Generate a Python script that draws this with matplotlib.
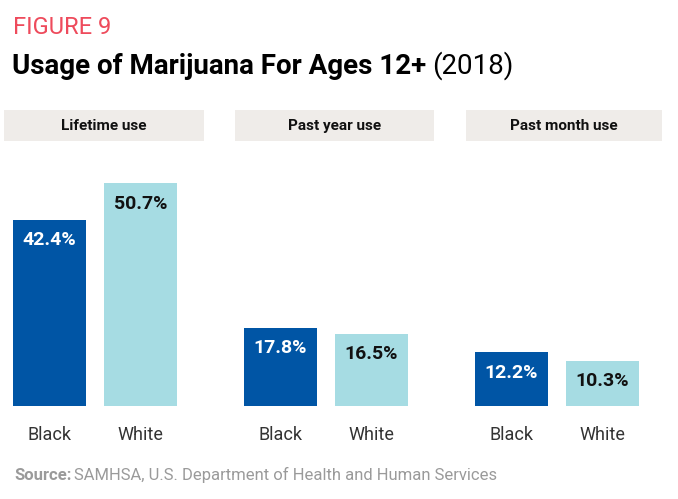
import matplotlib
matplotlib.use("Agg")
import matplotlib.pyplot as plt
from matplotlib.patches import Rectangle

plt.rcParams['font.family'] = ['Roboto', 'DejaVu Sans']

panels = ["Lifetime use", "Past year use", "Past month use"]
groups = ["Black", "White"]
black_vals = [42.4, 17.8, 12.2]
white_vals = [50.7, 16.5, 10.3]

dark_blue = "#0055A5"
light_blue = "#A6DCE3"
header_bg = "#EFECE9"

W, H = 678, 499
fig = plt.figure(figsize=(W / 100, H / 100), dpi=100)

def fx(px):
    return px / W

def fy(py):
    return 1 - py / H

panel_left = [4, 235, 466]
panel_widths = [200, 199, 196]
base_y = 406
top_y = 150
ymax = (base_y - top_y) / 4.39

for i, name in enumerate(panels):
    l = panel_left[i]
    pw = panel_widths[i]
    fig.patches.append(Rectangle((fx(l), fy(141)), pw / W, 31 / H,
                                 transform=fig.transFigure, facecolor=header_bg,
                                 edgecolor='none'))
    fig.text(fx(l + pw / 2), fy(126), name, ha='center', va='center',
             fontsize=11, fontweight='bold', color='#111111')
    ax = fig.add_axes([fx(l), fy(base_y), pw / W, (base_y - top_y) / H])
    vals = [black_vals[i], white_vals[i]]
    ax.bar([0, 1], vals, width=0.8, color=[dark_blue, light_blue])
    ax.set_xlim(-0.5, -0.5 + pw / 91.0)
    ax.set_ylim(0, ymax)
    ax.axis('off')
    for j, v in enumerate(vals):
        ax.annotate(f"{v}%", (j, v), xytext=(0, -8), textcoords='offset points',
                    ha='center', va='top', fontsize=14, fontweight='bold',
                    color='white' if j == 0 else '#111111')
        ax.annotate(groups[j], (j, 0), xytext=(0, -21), textcoords='offset points',
                    ha='center', va='center', fontsize=13, color='#333333')

fig.text(fx(13), fy(28), "FIGURE 9", ha='left', va='center', fontsize=17,
         color='#EE4B5C')
t = fig.text(fx(12), fy(66), "Usage of Marijuana For Ages 12+", ha='left',
             va='center', fontsize=20, fontweight='bold', color='black')
fig.canvas.draw()
bb = t.get_window_extent()
fig.text((bb.x1 + 6) / W, fy(66), "(2018)", ha='left', va='center',
         fontsize=20, color='black')

s = fig.text(fx(14), fy(475), "Source:", ha='left', va='center', fontsize=12,
             fontweight='bold', color='#9A9A9A')
bb = s.get_window_extent()
fig.text((bb.x1 + 3) / W, fy(475), "SAMHSA, U.S. Department of Health and Human Services",
         ha='left', va='center', fontsize=12, color='#9A9A9A')

fig.savefig("out.png", dpi=100)
